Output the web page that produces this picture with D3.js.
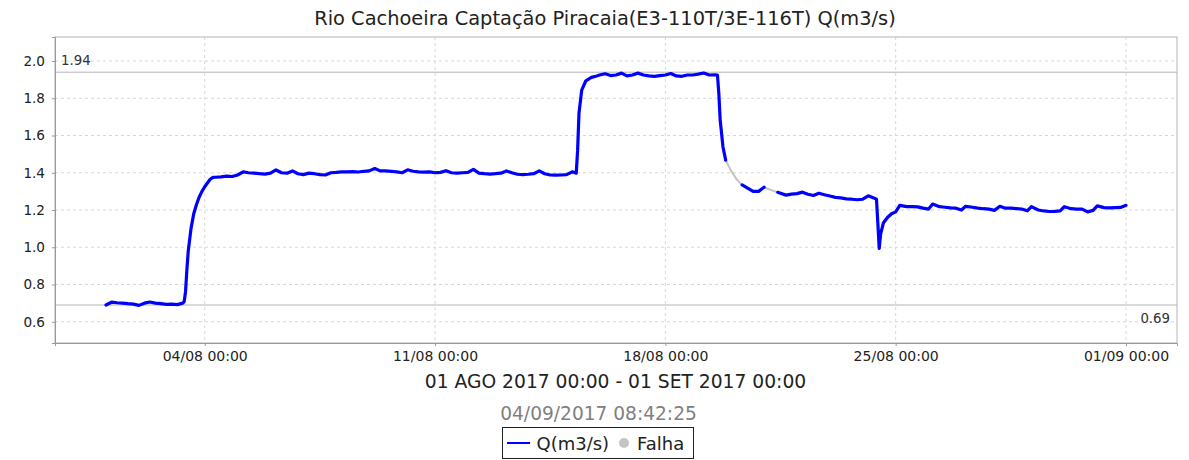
<!DOCTYPE html>
<html>
<head>
<meta charset="utf-8">
<script src="https://cdn.jsdelivr.net/npm/d3@7"></script>
<style>
  body { margin: 0; background: #fff; }
  text { font-family: "DejaVu Sans", sans-serif; }
</style>
</head>
<body>
<div id="chart"></div>
<script>
// readings per day (hour of day, flow in m3/s); null = falha
const days = ['01/08', '02/08', '03/08', '04/08', '05/08', '06/08', '07/08', '08/08',
  '09/08', '10/08', '11/08', '12/08', '13/08', '14/08', '15/08', '16/08', '17/08',
  '18/08', '19/08', '20/08', '21/08', '22/08', '23/08', '24/08', '25/08', '26/08',
  '27/08', '28/08', '29/08', '30/08', '31/08', '01/09'];
const hours = [
  [0, 4, 8, 12, 16, 20],
  [0, 4, 8, 12, 16, 20],
  [0, 4, 8, 9, 10, 11, 12, 14, 16, 18, 20, 22],
  [0, 2, 4, 6, 8, 12, 16, 20],
  [0, 4, 8, 12, 16, 20],
  [0, 4, 8, 12, 16, 20],
  [0, 4, 8, 12, 16, 20],
  [0, 4, 8, 12, 16, 20],
  [0, 4, 8, 12, 16, 20],
  [0, 4, 8, 12, 16, 20],
  [0, 4, 8, 12, 16, 20],
  [0, 4, 8, 12, 16, 20],
  [0, 4, 8, 12, 16, 20],
  [0, 4, 8, 12, 16, 20],
  [0, 4, 7, 8, 9, 11, 14, 18, 22],
  [0, 4, 8, 12, 16, 20],
  [0, 4, 8, 12, 16, 20],
  [0, 4, 8, 12, 16, 20],
  [0, 4, 8, 12, 14, 15, 16, 18, 20],
  [0, 4, 8, 12, 16, 20],
  [0, 4, 10, 12, 16, 20],
  [0, 4, 8, 12, 16, 20],
  [0, 4, 8, 12, 16, 20],
  [0, 4, 8, 10, 11, 12, 13, 15, 18, 21],
  [0, 3, 8, 12, 16, 20],
  [0, 3, 8, 12, 16, 20],
  [0, 3, 8, 12, 16, 20],
  [0, 4, 8, 12, 16, 20],
  [0, 3, 8, 12, 16, 20],
  [0, 3, 8, 12, 16, 20],
  [0, 3, 8, 12, 16, 20],
  [0]
];
const flow = [
  [0.690, 0.705, 0.702, 0.700, 0.697, 0.695],
  [0.688, 0.700, 0.706, 0.700, 0.697, 0.693],
  [0.695, 0.692, 0.700, 0.708, 0.760, 0.880, 0.980, 1.100, 1.180, 1.230, 1.270, 1.300],
  [1.325, 1.345, 1.365, 1.375, 1.376, 1.378, 1.382, 1.380],
  [1.388, 1.405, 1.400, 1.398, 1.395, 1.393],
  [1.398, 1.415, 1.400, 1.398, 1.410, 1.395],
  [1.390, 1.398, 1.395, 1.390, 1.388, 1.400],
  [1.402, 1.405, 1.405, 1.406, 1.404, 1.408],
  [1.410, 1.423, 1.410, 1.410, 1.408, 1.405],
  [1.400, 1.416, 1.408, 1.405, 1.403, 1.405],
  [1.400, 1.402, 1.411, 1.400, 1.398, 1.400],
  [1.402, 1.418, 1.398, 1.395, 1.393, 1.395],
  [1.398, 1.410, 1.400, 1.392, 1.390, 1.392],
  [1.395, 1.410, 1.395, 1.388, 1.387, 1.388],
  [1.390, 1.405, 1.398, 1.520, 1.720, 1.844, 1.894, 1.912, 1.920],
  [1.925, 1.932, 1.922, 1.925, 1.935, 1.920],
  [1.925, 1.935, 1.925, 1.920, 1.918, 1.922],
  [1.925, 1.933, 1.920, 1.918, 1.925, 1.925],
  [1.930, 1.936, 1.925, 1.926, 1.925, 1.826, 1.683, 1.540, 1.468],
  [null, null, 1.335, 1.318, 1.300, 1.300],
  [1.322, null, 1.295, 1.290, 1.280, 1.285],
  [1.288, 1.296, 1.285, 1.278, 1.290, 1.282],
  [1.275, 1.268, 1.265, 1.260, 1.258, 1.255],
  [1.258, 1.276, 1.265, 1.258, 1.130, 0.994, 1.070, 1.130, 1.160, 1.180],
  [1.190, 1.225, 1.218, 1.218, 1.217, 1.210],
  [1.205, 1.232, 1.218, 1.215, 1.212, 1.210],
  [1.200, 1.220, 1.215, 1.210, 1.207, 1.205],
  [1.198, 1.220, 1.210, 1.210, 1.208, 1.205],
  [1.196, 1.218, 1.200, 1.195, 1.192, 1.193],
  [1.195, 1.218, 1.207, 1.205, 1.205, 1.190],
  [1.198, 1.222, 1.213, 1.212, 1.213, 1.214],
  [1.225]
];
// falha (gap) readings, null splits the two gaps
const falhaTimes = ['19/08 20', '20/08 00', '20/08 04', '20/08 08', '20/08 12', '21/08 00', '21/08 04', '21/08 10'];
const falhaFlow = [1.468, 1.410, 1.365, 1.335, null, 1.322, 1.310, 1.295];

const yTicks = [0.6, 0.8, 1.0, 1.2, 1.4, 1.6, 1.8, 2.0];
const xTicks = ['04/08 00', '11/08 00', '18/08 00', '25/08 00', '01/09 00'];
const refLines = [1.94, 0.69];

const title = 'Rio Cachoeira Captação Piracaia(E3-110T/3E-116T) Q(m3/s)';
const period = '01 AGO 2017 00:00 - 01 SET 2017 00:00';
const stamp = '04/09/2017 08:42:25';

const width = 1189;
const height = 460;
const margin = { top: 37, right: 12, bottom: 117, left: 55 };
const plotW = width - margin.left - margin.right;
const plotH = height - margin.top - margin.bottom;

const parseTime = (s) => d3.timeParse('%Y %d/%m %H')('2017 ' + s);

const data = [];
days.forEach((day, i) => {
  hours[i].forEach((h, j) => {
    data.push({ t: parseTime(day + ' ' + String(h).padStart(2, '0')), v: flow[i][j] });
  });
});
const falhaData = falhaTimes.map((s, i) => ({ t: parseTime(s), v: falhaFlow[i] }));

const svg = d3.select('#chart')
  .append('svg')
  .attr('width', width)
  .attr('height', height);

const g = svg.append('g')
  .attr('transform', `translate(${margin.left},${margin.top})`);

// x domain: data range plus 5% margin on each side
const t0 = parseTime('01/08 00');
const t1 = parseTime('01/09 00');
const pad = (t1 - t0) * 0.05;
const x = d3.scaleTime()
  .domain([new Date(+t0 - pad), new Date(+t1 + pad)])
  .range([0, plotW]);

const y = d3.scaleLinear()
  .domain([0.486, 2.129])
  .range([plotH, 0]);

// grid
g.append('g')
  .selectAll('line')
  .data(yTicks)
  .enter()
  .append('line')
  .attr('x1', 0)
  .attr('x2', plotW)
  .attr('y1', (d) => y(d))
  .attr('y2', (d) => y(d))
  .attr('stroke', '#d8d8d8')
  .attr('stroke-dasharray', '3,3');

g.append('g')
  .selectAll('line')
  .data(xTicks)
  .enter()
  .append('line')
  .attr('x1', (d) => x(parseTime(d)))
  .attr('x2', (d) => x(parseTime(d)))
  .attr('y1', 0)
  .attr('y2', plotH)
  .attr('stroke', '#d8d8d8')
  .attr('stroke-dasharray', '3,3');

// reference lines
g.selectAll('.ref')
  .data(refLines)
  .enter()
  .append('line')
  .attr('class', 'ref')
  .attr('x1', 0)
  .attr('x2', plotW)
  .attr('y1', (d) => y(d))
  .attr('y2', (d) => y(d))
  .attr('stroke', '#b4b4b4')
  .attr('stroke-width', 1);

g.append('text')
  .attr('x', 6)
  .attr('y', y(refLines[0]) - 7.5)
  .attr('font-size', 13.3)
  .attr('fill', '#333')
  .text(refLines[0].toFixed(2));

g.append('text')
  .attr('x', plotW - 7)
  .attr('y', y(refLines[1]) + 18)
  .attr('text-anchor', 'end')
  .attr('font-size', 13.3)
  .attr('fill', '#333')
  .text(refLines[1].toFixed(2));

// falha line (gray) under the flow line
g.append('path')
  .datum(falhaData)
  .attr('fill', 'none')
  .attr('stroke', '#c4c4c4')
  .attr('stroke-width', 2)
  .attr('d', d3.line()
    .defined((d) => d.v != null)
    .x((d) => x(d.t))
    .y((d) => y(d.v)));

g.append('path')
  .datum(data)
  .attr('fill', 'none')
  .attr('stroke', '#0000ff')
  .attr('stroke-width', 3.2)
  .attr('stroke-linejoin', 'round')
  .attr('stroke-linecap', 'round')
  .attr('d', d3.line()
    .defined((d) => d.v != null)
    .x((d) => x(d.t))
    .y((d) => y(d.v)));

// plot outline
g.append('rect')
  .attr('width', plotW)
  .attr('height', plotH)
  .attr('fill', 'none')
  .attr('stroke', '#b4b4b4');

// axes
const xAxis = g.append('g')
  .attr('transform', `translate(0,${plotH})`)
  .call(d3.axisBottom(x)
    .tickValues(xTicks.map(parseTime))
    .tickFormat(d3.timeFormat('%d/%m %H:%M'))
    .tickSize(3)
    .tickPadding(5));
xAxis.select('.domain').attr('stroke', '#999');
xAxis.selectAll('.tick line').attr('stroke', '#999');
xAxis.selectAll('.tick text')
  .attr('font-family', '"DejaVu Sans", sans-serif')
  .attr('font-size', 14)
  .attr('fill', '#222');

const yAxis = g.append('g')
  .call(d3.axisLeft(y)
    .tickValues(yTicks)
    .tickFormat(d3.format('.1f'))
    .tickSize(3)
    .tickPadding(7));
yAxis.select('.domain').attr('stroke', '#999');
yAxis.selectAll('.tick line').attr('stroke', '#999');
yAxis.selectAll('.tick text')
  .attr('font-family', '"DejaVu Sans", sans-serif')
  .attr('font-size', 13.6)
  .attr('fill', '#222');

// titles
svg.append('text')
  .attr('x', 605)
  .attr('y', 25)
  .attr('text-anchor', 'middle')
  .attr('font-size', 19.4)
  .attr('fill', '#222')
  .text(title);

svg.append('text')
  .attr('x', 615.5)
  .attr('y', 388)
  .attr('text-anchor', 'middle')
  .attr('font-size', 18.7)
  .attr('fill', '#222')
  .text(period);

svg.append('text')
  .attr('x', 598.5)
  .attr('y', 420)
  .attr('text-anchor', 'middle')
  .attr('font-size', 18.6)
  .attr('fill', '#808080')
  .text(stamp);

// legend
const legend = svg.append('g').attr('transform', 'translate(502,427)');
legend.append('rect')
  .attr('x', 0.5)
  .attr('y', 0.5)
  .attr('width', 191)
  .attr('height', 31)
  .attr('fill', '#fff')
  .attr('stroke', '#222');
legend.append('line')
  .attr('x1', 5)
  .attr('x2', 28)
  .attr('y1', 16)
  .attr('y2', 16)
  .attr('stroke', '#0000ff')
  .attr('stroke-width', 2);
legend.append('text')
  .attr('x', 34.5)
  .attr('y', 22.5)
  .attr('font-size', 18)
  .attr('fill', '#222')
  .text('Q(m3/s)');
legend.append('circle')
  .attr('cx', 122)
  .attr('cy', 16)
  .attr('r', 5)
  .attr('fill', '#c4c4c4');
legend.append('text')
  .attr('x', 135)
  .attr('y', 22.5)
  .attr('font-size', 18)
  .attr('fill', '#222')
  .text('Falha');
</script>
</body>
</html>
